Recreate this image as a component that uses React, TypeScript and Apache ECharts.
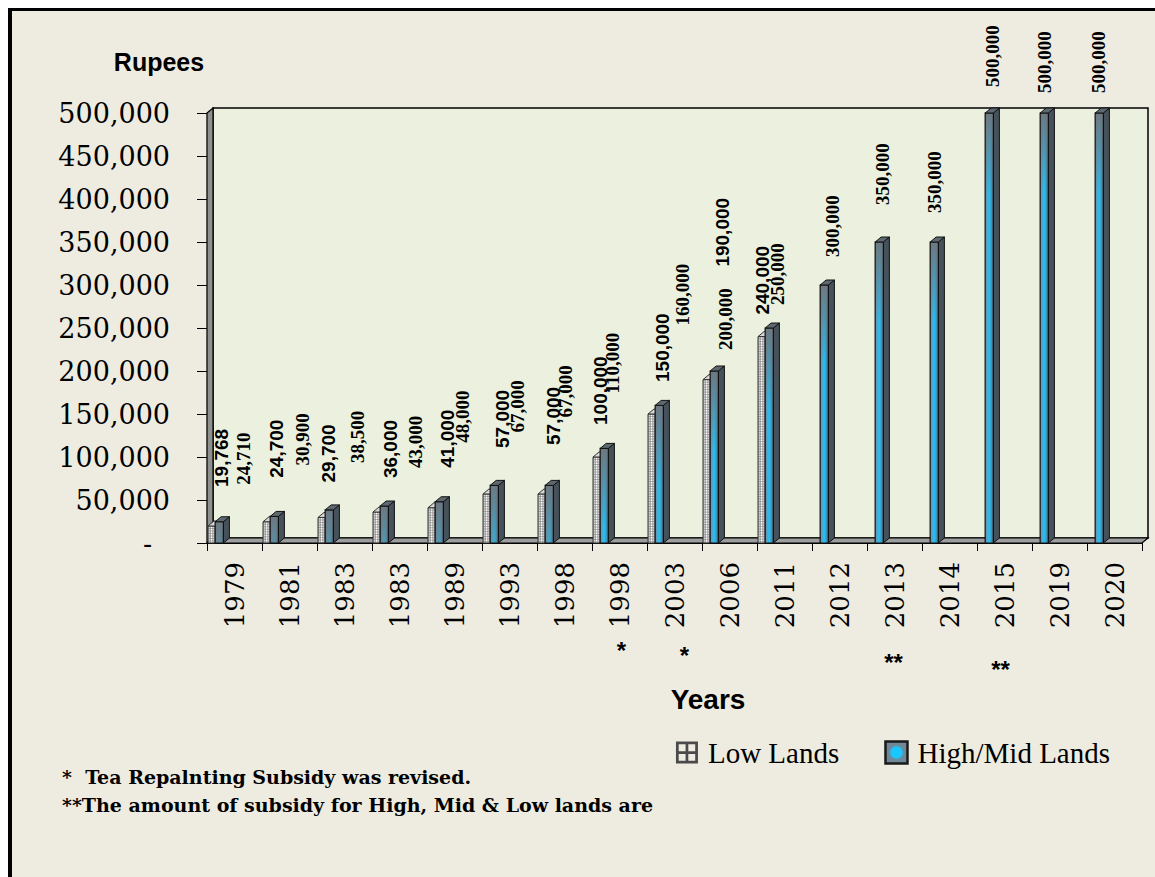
import React, { useEffect, useRef } from "react";
import * as echarts from "echarts";

// ---------- data ----------
const years = ["1979", "1981", "1983", "1983", "1989", "1993", "1998", "1998", "2003", "2006", "2011", "2012", "2013", "2014", "2015", "2019", "2020"];
const lowLands: (number | null)[] = [19768, 24700, 29700, 36000, 41000, 57000, 57000, 100000, 150000, 190000, 240000, null, null, null, null, null, null];
const highMidLands: number[] = [24710, 30900, 38500, 43000, 48000, 67000, 67000, 110000, 160000, 200000, 250000, 300000, 350000, 350000, 500000, 500000, 500000];
const yMin = 0;
const yMax = 500000;
const yStep = 50000;
const seriesNames = ["Low Lands", "High/Mid Lands"];
const footnotes = ["*  Tea Repalnting Subsidy was revised.", "**The amount of subsidy for High, Mid & Low lands are"];
const noteMarks = [
  { at: 7, text: "*" },
  { at: 8, text: "*" },
  { at: 12, text: "**" },
  { at: 14, text: "**" },
];

// ---------- layout (label placement as in the source picture) ----------
const lowLabelDx = [14, 14, 11, 18, 20, 20, 16, 8, 15, 20, 5];
const lowLabelLift = [39, 44, 35, 34, 40, 46, 49, 32, 32, 113, 22];
const highLabelDx = [36, 40, 40, 43, 35, 35, 28, 20, 35, 23, 20, 20, 15, 12, 15, 12, 11];
const highLabelLift = [37, 51, 47, 38, 59, 53, 68, 55, 80, 21, 23, 28, 37, 29, 26, 20, 20];
const noteMarkPos = [
  [2, 639],
  [10, 644],
  [-1, 651],
  [-4, 658],
];

const GL = 195;
const GT = 102;
const GW = 935;
const GH = 430;
const DX = 6;
const DY = 5;

const SERIF = '"DejaVu Serif", serif';
const TIMES = '"Liberation Serif", "Times New Roman", serif';
const SANS = '"Liberation Sans", Arial, sans-serif';

const fmt = (v: number) => v.toLocaleString("en-US");

let registered = false;
function registerShapes() {
  if (registered) return;
  registered = true;
  const Hatch = (echarts.graphic as any).extendShape({
    shape: { x: 0, y: 0, width: 0, height: 0 },
    buildPath(ctx: any, shape: any) {
      const { x, y, width, height } = shape;
      for (let yy = y + 2.5; yy < y + height - 0.5; yy += 2.5) {
        ctx.moveTo(x, yy);
        ctx.lineTo(x + width, yy);
      }
      for (let xx = x + 2.4; xx < x + width - 0.5; xx += 2.4) {
        ctx.moveTo(xx, y);
        ctx.lineTo(xx, y + height);
      }
    },
  });
  (echarts.graphic as any).registerShape("hatch", Hatch);
}

function renderLow(params: any, api: any) {
  const i = api.value(0);
  const v = api.value(1);
  const base = api.coord([i, 0]);
  const top = api.coord([i, v]);
  const catW = api.size([1, 0])[0];
  const L = base[0] - catW / 2;
  const x0 = L + 1;
  const w = catW * 0.13;
  const x1 = x0 + w;
  const yb = base[1];
  const yt = top[1];
  return {
    type: "group",
    children: [
      {
        type: "polygon",
        shape: { points: [[x1, yt], [x1 + DX, yt - DY], [x1 + DX, yb - DY], [x1, yb]] },
        style: { fill: "#9A9A9A", stroke: "#222", lineWidth: 1 },
      },
      {
        type: "rect",
        shape: { x: x0, y: yt, width: w, height: yb - yt },
        style: {
          fill: {
            type: "linear", x: 0, y: 0, x2: 1, y2: 0,
            colorStops: [
              { offset: 0, color: "#B8B8B8" },
              { offset: 0.5, color: "#FFFFFF" },
              { offset: 1, color: "#C4C4C4" },
            ],
          },
          stroke: null,
        },
      },
      {
        type: "hatch",
        shape: { x: x0, y: yt, width: w, height: yb - yt },
        style: { fill: null, stroke: "#8A8A8A", lineWidth: 0.7 },
      },
      {
        type: "rect",
        shape: { x: x0, y: yt, width: w, height: yb - yt },
        style: { fill: null, stroke: "#333", lineWidth: 1 },
      },
      {
        type: "polygon",
        shape: { points: [[x0, yt], [x0 + DX, yt - DY], [x1 + DX, yt - DY], [x1, yt]] },
        style: { fill: "#D8D8D8", stroke: "#333", lineWidth: 1 },
      },
      {
        type: "text",
        x: L + (lowLabelDx[i] ?? 14),
        y: yt - (lowLabelLift[i] ?? 35),
        rotation: Math.PI / 2,
        style: {
          text: fmt(v),
          fontFamily: SANS,
          fontWeight: "bold",
          fontSize: 19,
          fill: "#000",
          align: "left",
          verticalAlign: "middle",
        },
      },
    ],
  };
}

function renderHigh(params: any, api: any) {
  const i = api.value(0);
  const v = api.value(1);
  const base = api.coord([i, 0]);
  const top = api.coord([i, v]);
  const catW = api.size([1, 0])[0];
  const L = base[0] - catW / 2;
  const x0 = L + 1 + catW * 0.13;
  const w = catW * 0.15;
  const x1 = x0 + w;
  const yb = base[1];
  const yt = top[1];
  return {
    type: "group",
    children: [
      {
        type: "polygon",
        shape: { points: [[x1, yt], [x1 + DX, yt - DY], [x1 + DX, yb - DY], [x1, yb]] },
        style: { fill: "#45515B", stroke: "#111", lineWidth: 1 },
      },
      {
        type: "rect",
        shape: { x: x0, y: yt, width: w, height: yb - yt },
        style: {
          fill: {
            type: "linear", x: 0, y: 0, x2: 1, y2: 0,
            colorStops: [
              { offset: 0, color: "#7E8790" },
              { offset: 0.25, color: "#4FA6CF" },
              { offset: 0.5, color: "#1EC4F6" },
              { offset: 0.75, color: "#3F98C2" },
              { offset: 1, color: "#4E5B66" },
            ],
          },
          stroke: null,
        },
      },
      {
        type: "rect",
        shape: { x: x0, y: yt, width: w, height: yb - yt },
        style: {
          fill: {
            type: "linear", x: 0, y: yt, x2: 0, y2: yt + 80, global: true,
            colorStops: [
              { offset: 0, color: "rgba(112,118,124,0.95)" },
              { offset: 1, color: "rgba(112,118,124,0)" },
            ],
          },
          stroke: null,
        },
      },
      {
        type: "rect",
        shape: { x: x0, y: yt, width: w, height: yb - yt },
        style: { fill: null, stroke: "#111", lineWidth: 1.2 },
      },
      {
        type: "polygon",
        shape: { points: [[x0, yt], [x0 + DX, yt - DY], [x1 + DX, yt - DY], [x1, yt]] },
        style: { fill: "#5E6870", stroke: "#111", lineWidth: 1 },
      },
      {
        type: "text",
        x: L + (highLabelDx[i] ?? 20),
        y: yt - (highLabelLift[i] ?? 30),
        rotation: Math.PI / 2,
        style: {
          text: fmt(v),
          fontFamily: TIMES,
          fontWeight: "bold",
          fontSize: 19,
          fill: "#000",
          align: "left",
          verticalAlign: "middle",
        },
      },
    ],
  };
}

const gridIcon =
  "path://M0,0H16V16H0Z M2,2V7H7V2Z M9,2V7H14V2Z M2,9V14H7V9Z M9,9V14H14V9Z";

export default function App() {
  const ref = useRef<HTMLDivElement>(null);

  useEffect(() => {
    if (!ref.current) return;
    registerShapes();
    const chart = echarts.init(ref.current, null, { renderer: "svg" });
    const catW = GW / years.length;

    const walls: any[] = [
      {
        type: "rect",
        z: 1,
        shape: { x: GL + DX, y: GT - DY, width: GW, height: GH },
        style: { fill: "#EBF1DE", stroke: "#000", lineWidth: 1.5 },
      },
      {
        type: "polygon",
        z: 1,
        shape: { points: [[GL, GT], [GL + DX, GT - DY], [GL + DX, GT + GH - DY], [GL, GT + GH]] },
        style: { fill: "#8E9090", stroke: "#000", lineWidth: 1.2 },
      },
      {
        type: "polygon",
        z: 1,
        shape: { points: [[GL, GT + GH], [GL + DX, GT + GH - DY], [GL + GW + DX, GT + GH - DY], [GL + GW, GT + GH]] },
        style: { fill: "#9C9E9E", stroke: "#000", lineWidth: 1.2 },
      },
    ];

    const texts: any[] = [
      {
        type: "text",
        z: 10,
        x: 147,
        y: 51,
        style: { text: "Rupees", fontFamily: SANS, fontWeight: "bold", fontSize: 25, fill: "#000", align: "center", verticalAlign: "middle" },
      },
      {
        type: "text",
        z: 10,
        x: 696,
        y: 688,
        style: { text: "Years", fontFamily: SANS, fontWeight: "bold", fontSize: 28, fill: "#000", align: "center", verticalAlign: "middle" },
      },
      ...noteMarks.map((m, k) => ({
        type: "text",
        z: 10,
        x: GL + (m.at + 0.5) * catW + noteMarkPos[k][0],
        y: noteMarkPos[k][1],
        style: { text: m.text, fontFamily: SANS, fontWeight: "bold", fontSize: 24, fill: "#000", align: "center", verticalAlign: "middle" },
      })),
      ...footnotes.map((t, k) => ({
        type: "text",
        z: 10,
        x: 50,
        y: 766 + k * 28,
        style: { text: t, fontFamily: SERIF, fontWeight: "bold", fontSize: 19, fill: "#000", align: "left", verticalAlign: "middle" },
      })),
    ];

    const option: any = {
      animation: false,
      backgroundColor: "transparent",
      grid: { left: GL, top: GT, width: GW, height: GH, containLabel: false, outerBoundsMode: "none" },
      legend: {
        right: 40,
        top: 722,
        itemGap: 45,
        itemWidth: 22,
        itemHeight: 22,
        selectedMode: false,
        textStyle: { fontFamily: TIMES, fontSize: 29, color: "#000", padding: [0, 0, 0, 5] },
        data: [
          { name: seriesNames[0], icon: gridIcon, itemStyle: { color: "#4A4A4A", borderWidth: 0 } },
          {
            name: seriesNames[1],
            icon: "rect",
            itemStyle: {
              color: {
                type: "radial", x: 0.5, y: 0.5, r: 0.6,
                colorStops: [
                  { offset: 0, color: "#19C6FF" },
                  { offset: 0.4, color: "#19C6FF" },
                  { offset: 0.55, color: "#6F8796" },
                  { offset: 1, color: "#6F8796" },
                ],
              },
              borderColor: "#1A1A1A",
              borderWidth: 2.5,
            },
          },
        ],
      },
      xAxis: {
        type: "category",
        data: years,
        boundaryGap: true,
        axisLine: { show: true, lineStyle: { color: "#000", width: 1.2 } },
        axisTick: { show: true, alignWithLabel: false, interval: 0, length: 8, lineStyle: { color: "#000", width: 1 } },
        axisLabel: { interval: 0, rotate: 90, margin: 19, fontFamily: SERIF, fontSize: 26, color: "#000" },
        splitLine: { show: false },
      },
      yAxis: {
        type: "value",
        min: yMin,
        max: yMax,
        interval: yStep,
        axisLine: { show: true, lineStyle: { color: "#000", width: 1.2 } },
        axisTick: { show: true, length: 10, lineStyle: { color: "#000", width: 1 } },
        axisLabel: {
          margin: 37,
          fontFamily: SERIF,
          fontSize: 27,
          color: "#000",
          formatter: (v: number) => (v === 0 ? "{z|-}" : fmt(v)),
          rich: { z: { fontFamily: SERIF, fontSize: 27, color: "#000", padding: [0, 18, 0, 0] } },
        },
        splitLine: { show: false },
      },
      series: [
        {
          type: "custom",
          name: seriesNames[0],
          coordinateSystem: "cartesian2d",
          clip: false,
          z: 3,
          itemStyle: { color: "#4A4A4A" },
          encode: { x: 0, y: 1 },
          data: lowLands.map((v, i) => (v == null ? null : [i, v])).filter((d) => d !== null),
          renderItem: renderLow,
        },
        {
          type: "custom",
          name: seriesNames[1],
          coordinateSystem: "cartesian2d",
          clip: false,
          z: 4,
          itemStyle: { color: "#19C6FF" },
          encode: { x: 0, y: 1 },
          data: highMidLands.map((v, i) => [i, v]),
          renderItem: renderHigh,
        },
      ],
      graphic: [...walls, ...texts],
    };

    chart.setOption(option);
    return () => chart.dispose();
  }, []);

  return (
    <div
      style={{
        position: "fixed",
        left: 8,
        top: 8,
        width: 1147,
        height: 869,
        boxSizing: "border-box",
        borderLeft: "4px solid #000",
        borderTop: "3px solid #000",
        background: "#EEECE1",
      }}
    >
      <div ref={ref} style={{ width: 1143, height: 866 }} />
    </div>
  );
}
